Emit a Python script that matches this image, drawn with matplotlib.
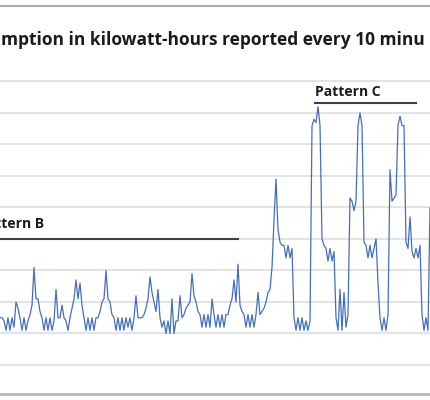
import numpy as np
import matplotlib
matplotlib.use("Agg")
import matplotlib.pyplot as plt

# consumption in kWh, one reading every 10 minutes
kwh = [
    0.25, 0.25, 0.24, 0.21, 0.25, 0.21, 0.25, 0.22,
    0.30, 0.28, 0.25, 0.21, 0.25, 0.21, 0.24, 0.26,
    0.29, 0.41, 0.31, 0.31, 0.27, 0.25, 0.21, 0.25,
    0.21, 0.25, 0.21, 0.24, 0.34, 0.25, 0.25, 0.29,
    0.25, 0.24, 0.21, 0.25, 0.28, 0.31, 0.37, 0.31,
    0.36, 0.29, 0.25, 0.21, 0.25, 0.21, 0.25, 0.21,
    0.25, 0.25, 0.27, 0.30, 0.31, 0.40, 0.31, 0.30,
    0.26, 0.25, 0.21, 0.25, 0.21, 0.25, 0.21, 0.25,
    0.22, 0.25, 0.21, 0.25, 0.32, 0.25, 0.25, 0.25,
    0.26, 0.28, 0.31, 0.38, 0.33, 0.30, 0.27, 0.34,
    0.25, 0.22, 0.24, 0.20, 0.24, 0.20, 0.31, 0.20,
    0.24, 0.24, 0.32, 0.25, 0.26, 0.28, 0.29, 0.30,
    0.39, 0.32, 0.30, 0.27, 0.26, 0.22, 0.26, 0.22,
    0.26, 0.22, 0.31, 0.26, 0.22, 0.26, 0.22, 0.26,
    0.22, 0.26, 0.26, 0.29, 0.31, 0.37, 0.30, 0.42,
    0.29, 0.27, 0.26, 0.22, 0.26, 0.22, 0.26, 0.22,
    0.26, 0.33, 0.26, 0.27, 0.28, 0.30, 0.33, 0.34,
    0.41, 0.56, 0.69, 0.53, 0.49, 0.48, 0.48, 0.44,
    0.48, 0.44, 0.47, 0.25, 0.21, 0.25, 0.21, 0.25,
    0.21, 0.24, 0.21, 0.24, 0.86, 0.88, 0.87, 0.92,
    0.86, 0.50, 0.48, 0.47, 0.43, 0.47, 0.43, 0.46,
    0.25, 0.21, 0.34, 0.21, 0.33, 0.22, 0.26, 0.63,
    0.62, 0.59, 0.62, 0.86, 0.90, 0.86, 0.49, 0.48,
    0.44, 0.48, 0.44, 0.47, 0.50, 0.36, 0.25, 0.21,
    0.25, 0.21, 0.26, 0.72, 0.62, 0.63, 0.64, 0.86,
    0.89, 0.86, 0.86, 0.49, 0.47, 0.57, 0.46, 0.44,
    0.47, 0.44, 0.48, 0.26, 0.21, 0.25, 0.21, 0.60,
]
minutes = np.arange(len(kwh)) * 10

grid_levels = [0.1, 0.2, 0.3, 0.4, 0.5, 0.6, 0.7, 0.8, 0.9, 1.0]
title = "mption in kilowatt-hours reported every 10 minu"

plt.rcParams["font.family"] = ["Open Sans", "DejaVu Sans"]

fig = plt.figure(figsize=(4.3, 4.0), dpi=100)
ax = fig.add_axes([0, 0.015, 1, 0.81])

for g in grid_levels:
    ax.axhline(g, color="#dedede", lw=1.2, zorder=0)

ax.plot(minutes, kwh, color="#4470b8", lw=0.9, zorder=3)

# pattern markers
ax.plot([0, 1190], [0.5, 0.5], color="#404040", lw=1.5, zorder=2)
ax.text(-110, 0.525, "Pattern B", fontsize=10, fontweight="bold",
        color="#1a1a1a", va="bottom", ha="left")
ax.plot([1575, 2080], [0.932, 0.932], color="#404040", lw=1.5, zorder=2)
ax.text(1575, 0.945, "Pattern C", fontsize=10, fontweight="bold",
        color="#1a1a1a", va="bottom", ha="left")

ax.set_xlim(0, 2150)
ax.set_ylim(0.0079, 1.0365)
for side in ["top", "left", "right"]:
    ax.spines[side].set_visible(False)
ax.spines["bottom"].set_color("#b4b4b4")
ax.spines["bottom"].set_linewidth(2)
ax.set_xticks([])
ax.set_yticks([])

fig.add_artist(plt.Line2D([0, 1], [1 - 6 / 400, 1 - 6 / 400],
                          color="#acacac", lw=1.5))
fig.text(1 / 430, 1 - 40 / 400, title, fontsize=12.5, fontweight="bold",
         color="#1a1a1a", ha="left", va="center")

fig.savefig("out.png", dpi=100)
